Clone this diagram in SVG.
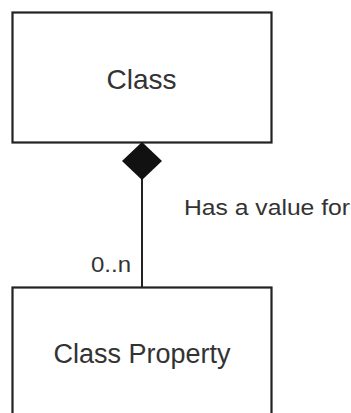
<svg xmlns="http://www.w3.org/2000/svg" width="351" height="413" viewBox="0 0 351 413">
<style>
.box{fill:#fff;stroke:#222;stroke-width:2.2}
.lbl{font-family:"Liberation Sans",Arial,sans-serif;fill:#333}
.line{stroke:#222;stroke-width:2;fill:none}
</style>
<rect width="351" height="413" fill="#fff"/>
<g id="class">
<rect class="box" x="12.5" y="12.5" width="259" height="130"/>
<text class="lbl" x="141.5" y="89" font-size="28" text-anchor="middle">Class</text>
</g>
<g id="class-property">
<rect class="box" x="12.5" y="287.5" width="259" height="140"/>
<text class="lbl" x="142" y="363" font-size="27" text-anchor="middle">Class Property</text>
</g>
<g id="connectors">
<line class="line" x1="142" y1="178" x2="142" y2="287"/>
<polygon points="142,142 162,161 142,180 122,161" fill="#111"/>
<text class="lbl" x="184" y="215" font-size="22" textLength="166" lengthAdjust="spacingAndGlyphs">Has a value for</text>
<text class="lbl" x="91" y="272" font-size="22" textLength="40" lengthAdjust="spacingAndGlyphs">0..n</text>
</g>
</svg>
